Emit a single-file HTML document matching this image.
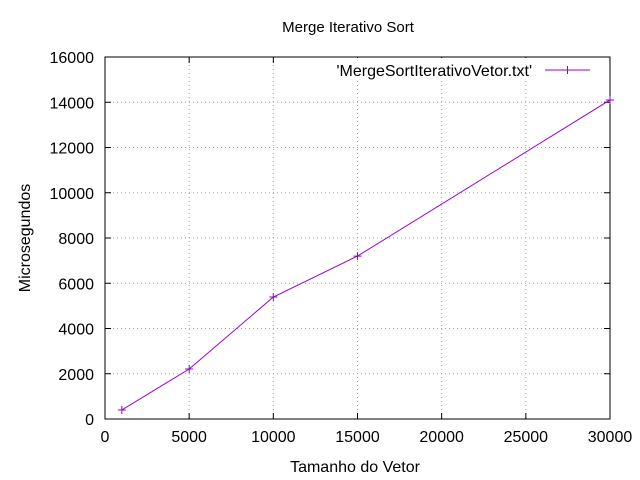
<!DOCTYPE html>
<html><head><meta charset="utf-8"><style>
body{margin:0;background:#fff}
svg{display:block;font-family:"Liberation Sans",sans-serif;font-size:16px}
</style></head><body>
<svg id="chart" width="640" height="480">
<text x="348" y="32" text-anchor="middle" font-size="15">Merge Iterativo Sort</text>
<text x="355" y="472" text-anchor="middle">Tamanho do Vetor</text>
<text transform="translate(30,238) rotate(-90)" text-anchor="middle">Microsegundos</text>
<g id="grid"></g><g id="ticks"></g>
<rect x="330" y="58" width="270" height="22" fill="#fff"/>
<rect x="105" y="57" width="505" height="362" fill="none" stroke="#000" stroke-width="1"/>
<g>
<text x="532" y="76" text-anchor="end">'MergeSortIterativoVetor.txt'</text>
<line x1="545" y1="70" x2="590" y2="70" stroke="#9400d3"/>
<path d="M563.5 70h8M567.5 66v8" stroke="#9400d3"/>
</g>
<g id="series"></g>
</svg>
<script>
const xTicks=[0,5000,10000,15000,20000,25000,30000];
const yTicks=[0,2000,4000,6000,8000,10000,12000,14000,16000];
const xVals=[1000,5000,10000,15000,30000];
const yVals=[400,2210,5390,7200,14100];
const X=v=>105+v/30000*505, Y=v=>419-v/16000*362;
const ns="http://www.w3.org/2000/svg";
function mk(t,a,p){const e=document.createElementNS(ns,t);for(const k in a)e.setAttribute(k,a[k]);p.appendChild(e);return e;}
const g=document.getElementById('grid'),tk=document.getElementById('ticks'),s=document.getElementById('series');
xTicks.forEach(v=>{const x=X(v);
 if(v>0&&v<30000){const l=mk('line',{x1:x,x2:x,y1:57,y2:419,stroke:'#a0a0a0','stroke-dasharray':'1,3'},g);}
 mk('line',{x1:x,x2:x,y1:419,y2:413,stroke:'#000'},tk);mk('line',{x1:x,x2:x,y1:57,y2:63,stroke:'#000'},tk);
 const t=mk('text',{x:x,y:442,'text-anchor':'middle'},tk);t.textContent=v;
 });
yTicks.forEach(v=>{const y=Y(v);
 if(v>0&&v<16000){const l=mk('line',{x1:105,x2:610,y1:y,y2:y,stroke:'#a0a0a0','stroke-dasharray':'1,3'},g);}
 mk('line',{x1:105,x2:111,y1:y,y2:y,stroke:'#000'},tk);mk('line',{x1:604,x2:610,y1:y,y2:y,stroke:'#000'},tk);
 const t=mk('text',{x:94,y:y+6,'text-anchor':'end'},tk);t.textContent=v;
 });
const line=mk('polyline',{points:xVals.map((v,i)=>X(v)+','+Y(yVals[i])).join(' '),fill:'none',stroke:'#9400d3'},s);


xVals.forEach((v,i)=>{const x=X(v),y=Y(yVals[i]);
 const p=mk('path',{d:`M${x-4} ${y}h8M${x} ${y-4}v8`,stroke:'#9400d3'},s);
 
 });
</script>
</body></html>
